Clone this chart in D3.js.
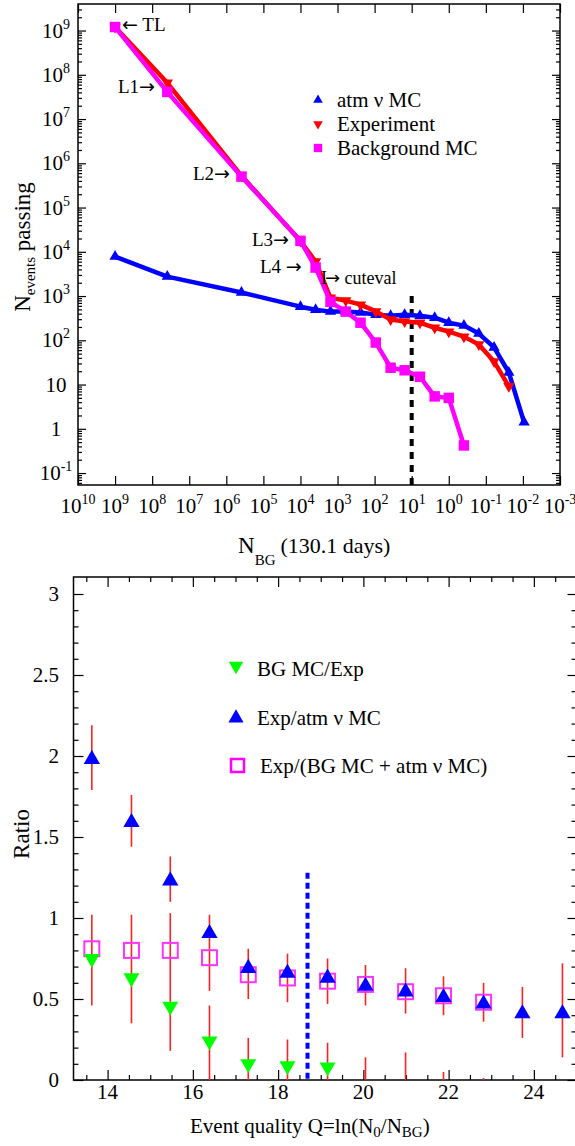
<!DOCTYPE html>
<html><head><meta charset="utf-8">
<script src="https://cdnjs.cloudflare.com/ajax/libs/d3/7.8.5/d3.min.js"></script>
<style>
html,body{margin:0;padding:0;background:#fff;}
svg{display:block;}
text{font-family:"Liberation Serif","Times New Roman",serif;fill:#000;}
</style></head><body>
<script>
// ---------------- DATA: top panel ----------------
const nbgPoints = [1e9, 3.9e7, 3.9e5, 1e4, 3.9e3, 1.55e3, 600, 240, 93, 37, 15.5, 6.0, 2.4, 1.0, 0.39, 0.155, 0.06, 0.024, 0.0093];
const atmMC = [7800, 2750, 1200, 575, 490, 445, 445, 425, 380, 360, 380, 360, 325, 250, 215, 142, 69, 18.7, 1.4];
const experiment = [1.2e9, 6.6e7, 5.2e5, 1.75e4, 6.0e3, 910, 790, 640, 450, 295, 265, 250, 192, 157, 121, 80, 33, 9.1];
const backgroundMC = [1.2e9, 4.1e7, 5.0e5, 1.77e4, 4.4e3, 740, 445, 250, 89, 24, 21, 15, 5.4, 5.0, 0.42];
const topXTickExp = ["10","9","8","7","6","5","4","3","2","1","0","-1","-2","-3"];
const topYTickVals = [1e9,1e8,1e7,1e6,1e5,1e4,1e3,1e2,10,1,0.1];
const topYTickBase = ["10","10","10","10","10","10","10","10","10","1","10"];
const topYTickExp  = ["9","8","7","6","5","4","3","2","","","-1"];
const cutNBG = 10;
const topLegend = ["atm \u03bd MC","Experiment","Background MC"];

// ---------------- DATA: bottom panel ----------------
const qVals = [13.63, 14.56, 15.47, 16.39, 17.3, 18.22, 19.16, 20.05, 20.99, 21.88, 22.82, 23.73, 24.67];
const bgOverExp = [0.75, 0.63, 0.455, 0.24, 0.10, 0.087, 0.08, null, null, null, null, null, null];
const expOverAtm = [1.98, 1.59, 1.23, 0.905, 0.69, 0.66, 0.63, 0.58, 0.545, 0.51, 0.47, 0.41, 0.41];
const expOverSum = [0.81, 0.80, 0.80, 0.755, 0.65, 0.63, 0.61, 0.59, 0.545, 0.52, 0.48, null, null];
const errALo = [1.79, 1.44, 1.10, 0.55, 0.50, 0.48, 0.47, 0.46, 0.41, 0.40, 0.36, 0.26, 0.14];
const errAHi = [2.19, 1.76, 1.38, 1.02, 0.81, 0.78, 0.75, 0.71, 0.69, 0.64, 0.60, 0.575, 0.72];
const errBLo = [0.46, 0.35, 0.18, 0, 0, 0, 0, 0, 0, 0, 0, null, null];
const errBHi = [1.02, 1.02, 1.03, 0.46, 0.26, 0.25, 0.23, 0.14, 0.17, 0.05, 0.012, null, null];
const botXTicks = [14,16,18,20,22,24];
const botYTicks = [0,0.5,1,1.5,2,2.5,3];
const botYTickLabels = ["0","0.5","1","1.5","2","2.5","3"];
const qCut = 18.69;
const botLegend = ["BG MC/Exp","Exp/atm \u03bd MC","Exp/(BG MC + atm \u03bd MC)"];

const W = 575, H = 1146;
const svg = d3.select("body").append("svg").attr("width", W).attr("height", H);

// ================= TOP PANEL =================
const xT = d3.scaleLog().domain([1e10, 1e-3]).range([78, 560]);
const yT = d3.scaleLog().domain([Math.pow(10,-1.27), Math.pow(10,9.6)]).range([485, 4]);
const gT = svg.append("g");

const xMajor = d3.range(10, -4, -1).map(e => Math.pow(10, e));
const yMajor = d3.range(-1, 10).map(e => Math.pow(10, e));
const yMinor = [];
for (let d = -2; d <= 9; d++) for (let k = 2; k <= 9; k++) {
  const v = k * Math.pow(10, d);
  if (v > yT.domain()[0] && v < yT.domain()[1]) yMinor.push(v);
}
function addAxis(g, axis, tr) {
  g.append("g").attr("transform", tr).call(axis)
    .call(s => s.select(".domain").remove())
    .call(s => s.selectAll("line").attr("stroke", "#000").attr("stroke-width", 1.2));
}
addAxis(gT, d3.axisTop(xT).tickValues(xMajor).tickSize(9).tickFormat(""), "translate(0,485)");
addAxis(gT, d3.axisBottom(xT).tickValues(xMajor).tickSize(9).tickFormat(""), "translate(0,4)");
addAxis(gT, d3.axisRight(yT).tickValues(yMajor).tickSize(8).tickFormat(""), "translate(78,0)");
addAxis(gT, d3.axisRight(yT).tickValues(yMinor).tickSize(4).tickFormat(""), "translate(78,0)");
addAxis(gT, d3.axisLeft(yT).tickValues(yMajor).tickSize(8).tickFormat(""), "translate(560,0)");
addAxis(gT, d3.axisLeft(yT).tickValues(yMinor).tickSize(4).tickFormat(""), "translate(560,0)");
gT.append("rect").attr("x",78).attr("y",4).attr("width",482).attr("height",481)
  .attr("fill","none").attr("stroke","#000").attr("stroke-width",1.5);

// tick labels
xMajor.forEach((v,i) => {
  const t = gT.append("text").attr("x", xT(v)).attr("y", 513).attr("text-anchor","middle").attr("font-size",21);
  t.append("tspan").text("10");
  t.append("tspan").attr("font-size",14).attr("dy",-9).text(topXTickExp[i]);
});
topYTickVals.forEach((v,i) => {
  const t = gT.append("text").attr("x", 56).attr("y", yT(v)+7).attr("text-anchor","middle").attr("font-size",21);
  t.append("tspan").text(topYTickBase[i]);
  if (topYTickExp[i]) t.append("tspan").attr("font-size",14).attr("dy",-9).text(topYTickExp[i]);
});

// axis titles
const xtT = gT.append("text").attr("x", 238).attr("y", 553).attr("font-size", 23);
xtT.append("tspan").text("N");
xtT.append("tspan").attr("font-size",15).attr("dy",12).text("BG");
xtT.append("tspan").attr("dy",-12).attr("dx",5).attr("font-size",22).text("(130.1 days)");
const ytT = gT.append("text").attr("transform","translate(30,247) rotate(-90)").attr("text-anchor","middle").attr("font-size",23);
ytT.append("tspan").text("N");
ytT.append("tspan").attr("font-size",15).attr("dy",5).text("events");
ytT.append("tspan").attr("dy",-5).text(" passing");

// cut line
gT.append("line").attr("x1", xT(cutNBG)).attr("x2", xT(cutNBG)).attr("y1", yT(1000)).attr("y2", 485)
  .attr("stroke","#000").attr("stroke-width",4).attr("stroke-dasharray","7,6");

// series
const lineT = d3.line().x(d => xT(d[0])).y(d => yT(d[1]));
const seriesT = [
  {vals: atmMC, color: "#0000ff", sym: "up"},
  {vals: experiment, color: "#ff0000", sym: "down"},
  {vals: backgroundMC, color: "#ff00ff", sym: "sq"}
];
function symPath(kind, size) {
  if (kind === "sq") return d3.symbol(d3.symbolSquare, size)();
  return d3.symbol(d3.symbolTriangle, size)();
}
seriesT.forEach(s => {
  const pts = s.vals.map((v,i) => [nbgPoints[i], v]);
  gT.append("path").attr("d", lineT(pts)).attr("fill","none").attr("stroke", s.color)
    .attr("stroke-width", 4.5).attr("stroke-linejoin","round");
  gT.selectAll(null).data(pts).enter().append("path")
    .attr("d", symPath(s.sym, s.sym === "sq" ? 110 : 55))
    .attr("transform", d => `translate(${xT(d[0])},${yT(d[1])})` + (s.sym === "down" ? " rotate(180)" : ""))
    .attr("fill", s.color);
});

// annotations (label text + arrow)
const ann = [
  {pre:"", arrow:"\u2190", post:" TL", x:122, y:31},
  {pre:"L1", arrow:"\u2192", post:"", x:118, y:93},
  {pre:"L2", arrow:"\u2192", post:"", x:193, y:180},
  {pre:"L3", arrow:"\u2192", post:"", x:252, y:246},
  {pre:"L4 ", arrow:" \u2192", post:"", x:260, y:273}
];
ann.forEach(a => {
  const t = gT.append("text").attr("x",a.x).attr("y",a.y).attr("font-size",19);
  if (a.pre) t.append("tspan").text(a.pre);
  t.append("tspan").attr("font-family","DejaVu Sans").attr("font-size",19).text(a.arrow);
  if (a.post) t.append("tspan").text(a.post);
});
const cv = gT.append("text").attr("x",321).attr("y",284).attr("font-size",18);
cv.append("tspan").text("I");
cv.append("tspan").attr("dx",-2).attr("font-family","DejaVu Sans").attr("font-size",18).text("\u2192");
cv.append("tspan").text(" cuteval");

// legend
topLegend.forEach((name,i) => {
  const y = 100 + i*24;
  const s = seriesT[i];
  gT.append("path").attr("d", symPath(s.sym, s.sym === "sq" ? 70 : 40))
    .attr("transform", `translate(318,${y})` + (s.sym === "down" ? " rotate(180)" : ""))
    .attr("fill", s.color);
  gT.append("text").attr("x",337).attr("y",y+7).attr("font-size",21).text(name);
});

// ================= BOTTOM PANEL =================
const xB = d3.scaleLinear().domain([13.2, 25]).range([73.5, 576.5]);
const yB = d3.scaleLinear().domain([0, 3.1]).range([1080, 577.8]);
const gB = svg.append("g");
const xMinorB = d3.range(13.5, 25, 0.5).filter(v => v % 2 !== 0);
const yMinorB = d3.range(1, 31).map(v => v/10).filter(v => Math.abs(v*2 - Math.round(v*2)) > 1e-6);
addAxis(gB, d3.axisTop(xB).tickValues(botXTicks).tickSize(10).tickFormat(""), "translate(0,1080)");
addAxis(gB, d3.axisTop(xB).tickValues(xMinorB).tickSize(5).tickFormat(""), "translate(0,1080)");
addAxis(gB, d3.axisBottom(xB).tickValues(botXTicks).tickSize(10).tickFormat(""), "translate(0,577)");
addAxis(gB, d3.axisBottom(xB).tickValues(xMinorB).tickSize(5).tickFormat(""), "translate(0,577)");
addAxis(gB, d3.axisRight(yB).tickValues(botYTicks).tickSize(10).tickFormat(""), "translate(73.5,0)");
addAxis(gB, d3.axisRight(yB).tickValues(yMinorB).tickSize(5).tickFormat(""), "translate(73.5,0)");
addAxis(gB, d3.axisLeft(yB).tickValues(botYTicks).tickSize(9).tickFormat(""), "translate(576.5,0)");
addAxis(gB, d3.axisLeft(yB).tickValues(yMinorB).tickSize(5).tickFormat(""), "translate(576.5,0)");
gB.append("rect").attr("x",73.5).attr("y",577).attr("width",503).attr("height",503)
  .attr("fill","none").attr("stroke","#000").attr("stroke-width",1.5);

botXTicks.forEach(v => gB.append("text").attr("x", xB(v)).attr("y", 1099).attr("text-anchor","middle").attr("font-size",21).text(v));
botYTicks.forEach((v,i) => gB.append("text").attr("x", 59).attr("y", yB(v)+7).attr("text-anchor","end").attr("font-size",21).text(botYTickLabels[i]));

const xtB = gB.append("text").attr("x",190).attr("y",1133).attr("font-size",21);
xtB.append("tspan").text("Event quality Q=ln(N");
xtB.append("tspan").attr("font-size",15).attr("dy",4).text("0");
xtB.append("tspan").attr("dy",-4).text("/N");
xtB.append("tspan").attr("font-size",15).attr("dy",4).text("BG");
xtB.append("tspan").attr("dy",-4).text(")");
gB.append("text").attr("transform","translate(29,834) rotate(-90)").attr("text-anchor","middle").attr("font-size",23).text("Ratio");

// cut line
gB.append("line").attr("x1", xB(qCut)).attr("x2", xB(qCut)).attr("y1", yB(1.28)).attr("y2", 1080)
  .attr("stroke","#0000ff").attr("stroke-width",4).attr("stroke-dasharray","6,4");

// error bars
const errCol = "#ff2020";
qVals.forEach((q,i) => {
  if (errALo[i] !== null) gB.append("line").attr("x1",xB(q)).attr("x2",xB(q)).attr("y1",yB(errALo[i])).attr("y2",yB(errAHi[i]))
    .attr("stroke",errCol).attr("stroke-width",1.6);
  if (errBLo[i] !== null) gB.append("line").attr("x1",xB(q)).attr("x2",xB(q)).attr("y1",yB(errBLo[i])).attr("y2",yB(errBHi[i]))
    .attr("stroke",errCol).attr("stroke-width",1.6);
});
// markers
qVals.forEach((q,i) => {
  if (expOverSum[i] !== null) gB.append("rect").attr("x", xB(q)-7.5).attr("y", yB(expOverSum[i])-7.5)
    .attr("width",15).attr("height",15).attr("fill","none").attr("stroke","#ff33ff").attr("stroke-width",2);
});
qVals.forEach((q,i) => {
  if (bgOverExp[i] !== null) gB.append("path").attr("d", symPath("down", 110))
    .attr("transform", `translate(${xB(q)},${yB(bgOverExp[i])}) rotate(180)`).attr("fill","#00ff00");
});
qVals.forEach((q,i) => {
  if (expOverAtm[i] !== null) gB.append("path").attr("d", symPath("up", 115))
    .attr("transform", `translate(${xB(q)},${yB(expOverAtm[i])})`).attr("fill","#0000ff");
});

// legend
gB.append("path").attr("d", symPath("down", 90)).attr("transform","translate(236,666) rotate(180)").attr("fill","#00ff00");
gB.append("path").attr("d", symPath("up", 100)).attr("transform","translate(236,718)").attr("fill","#0000ff");
gB.append("rect").attr("x",231).attr("y",759).attr("width",13).attr("height",13).attr("fill","none").attr("stroke","#ff00ff").attr("stroke-width",2.5);
[676, 725, 773].forEach((y,i) => gB.append("text").attr("x", i===2 ? 260 : 257).attr("y", y).attr("font-size",21).text(botLegend[i]));
</script></body></html>
